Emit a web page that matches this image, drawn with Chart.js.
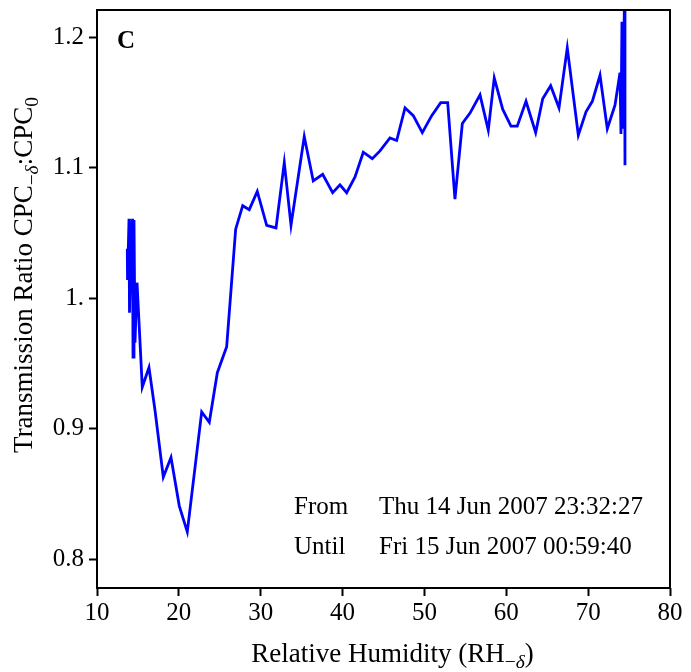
<!DOCTYPE html>
<html>
<head>
<meta charset="utf-8">
<script src="https://cdn.jsdelivr.net/npm/chart.js@4"></script>
<style>
  html, body { margin: 0; padding: 0; background: #fff; }
  #wrap { width: 691px; height: 672px; }
</style>
</head>
<body>
<div id="wrap"><canvas id="ratioChart" width="691" height="672"></canvas></div>
<script>
// relative humidity (RH_-delta)
const rh = [
    13.70, 13.73, 13.91, 13.97, 14.15, 14.34, 14.40, 14.52, 14.64, 14.89,
    15.53, 16.35, 17.09, 18.10, 19.04, 20.05, 21.03, 22.79, 23.72, 24.70,
    25.84, 26.94, 27.80, 28.60, 29.58, 30.73, 31.87, 32.88, 33.70, 35.32,
    36.42, 37.57, 38.79, 39.68, 40.50, 41.52, 42.53, 43.63, 44.57, 45.79,
    46.61, 47.63, 48.64, 49.74, 50.89, 51.99, 52.84, 53.73, 54.63, 55.57,
    56.79, 57.80, 58.53, 59.56, 60.57, 61.34, 62.41, 63.59, 64.45, 65.42,
    66.44, 67.45, 68.80, 69.74, 70.51, 71.45, 72.34, 73.28, 73.89, 74.01,
    74.13, 74.26, 74.44, 74.50
];
// transmission ratio CPC_-delta : CPC_0
const ratio = [
    1.038, 1.014, 1.061, 0.989, 1.037, 1.061, 0.955, 1.060, 0.966, 1.012,
    0.932, 0.947, 0.914, 0.863, 0.878, 0.841, 0.821, 0.913, 0.905, 0.943,
    0.963, 1.053, 1.071, 1.068, 1.082, 1.056, 1.054, 1.104, 1.056, 1.124,
    1.090, 1.095, 1.081, 1.087, 1.081, 1.093, 1.112, 1.107, 1.113, 1.123,
    1.121, 1.146, 1.140, 1.127, 1.140, 1.150, 1.150, 1.076, 1.134, 1.142,
    1.156, 1.129, 1.169, 1.145, 1.132, 1.132, 1.151, 1.127, 1.153, 1.163,
    1.146, 1.192, 1.125, 1.143, 1.151, 1.171, 1.130, 1.148, 1.173, 1.126,
    1.212, 1.130, 1.235, 1.102
];

const xTicks = [10, 20, 30, 40, 50, 60, 70, 80];
const yTicks = [0.8, 0.9, 1.0, 1.1, 1.2];
const yTickLabels = ['0.8', '0.9', '1.', '1.1', '1.2'];

const FONT = "'Liberation Serif', 'DejaVu Serif', serif";

// draws a run of text pieces, some of them as subscripts
function drawRich(ctx, parts, x, y, size) {
    let cx = x;
    parts.forEach(p => {
        const s = p.sub ? size * 0.72 : size;
        ctx.font = (p.italic ? 'italic ' : '') + s + 'px ' + FONT;
        ctx.fillText(p.t, cx, y + (p.sub ? size * 0.28 : 0));
        cx += ctx.measureText(p.t).width;
    });
}
function richWidth(ctx, parts, size) {
    let w = 0;
    parts.forEach(p => {
        const s = p.sub ? size * 0.72 : size;
        ctx.font = (p.italic ? 'italic ' : '') + s + 'px ' + FONT;
        w += ctx.measureText(p.t).width;
    });
    return w;
}

const xTitle = [
    { t: 'Relative Humidity (RH' },
    { t: '\u2212', sub: true }, { t: '\u03b4', sub: true, italic: true },
    { t: ')' }
];
const yTitle = [
    { t: 'Transmission Ratio CPC' },
    { t: '\u2212', sub: true }, { t: '\u03b4', sub: true, italic: true },
    { t: ':CPC' },
    { t: '0', sub: true }
];

const framePlugin = {
    id: 'frame',
    afterDraw(chart) {
        const ctx = chart.ctx;
        const a = chart.chartArea;
        ctx.save();
        ctx.strokeStyle = '#000';
        ctx.lineWidth = 2;
        ctx.strokeRect(a.left, a.top, a.right - a.left, a.bottom - a.top);

        ctx.fillStyle = '#000';
        ctx.textBaseline = 'middle';
        ctx.textAlign = 'left';

        // panel letter
        ctx.font = 'bold 25px ' + FONT;
        ctx.fillText('C', a.left + 20, a.top + 32);

        // time window
        ctx.font = '25px ' + FONT;
        ctx.fillText('From', 294, 507);
        ctx.fillText('Thu 14 Jun 2007 23:32:27', 379, 507);
        ctx.fillText('Until', 294, 547);
        ctx.fillText('Fri 15 Jun 2007 00:59:40', 379, 547);

        // x axis title
        const size = 27;
        let w = richWidth(ctx, xTitle, size);
        drawRich(ctx, xTitle, (a.left + a.right) / 2 - w / 2 + 9, 655, size);

        // y axis title
        w = richWidth(ctx, yTitle, size);
        ctx.translate(25, 275);
        ctx.rotate(-Math.PI / 2);
        drawRich(ctx, yTitle, -w / 2, 0, size);
        ctx.restore();
    }
};

const ctx = document.getElementById('ratioChart').getContext('2d');

new Chart(ctx, {
    type: 'line',
    data: {
        datasets: [{
            label: 'Transmission Ratio',
            data: rh.map((x, i) => ({ x: x, y: ratio[i] })),
            borderColor: '#0000ff',
            borderWidth: 2.8,
            pointRadius: 0,
            tension: 0,
            fill: false
        }]
    },
    options: {
        responsive: false,
        animation: false,
        layout: { padding: { top: 10, right: 21, left: 0, bottom: 0 } },
        plugins: {
            legend: { display: false },
            tooltip: { enabled: false }
        },
        scales: {
            x: {
                type: 'linear',
                min: 10,
                max: 80,
                afterBuildTicks: (axis) => { axis.ticks = xTicks.map(v => ({ value: v })); },
                afterFit: (axis) => {
                    axis.height = 84;
                    axis.paddingLeft = 0;
                    axis.paddingRight = 0;
                },
                border: { display: false },
                grid: {
                    drawOnChartArea: false,
                    drawTicks: true,
                    tickLength: 8,
                    tickWidth: 2,
                    tickColor: '#000'
                },
                ticks: {
                    color: '#000',
                    font: { family: FONT, size: 25 },
                    padding: 2,
                    maxRotation: 0
                }
            },
            y: {
                type: 'linear',
                min: 0.778,
                max: 1.221,
                afterBuildTicks: (axis) => { axis.ticks = yTicks.map(v => ({ value: v })); },
                afterFit: (axis) => {
                    axis.width = 97;
                    axis.paddingTop = 0;
                    axis.paddingBottom = 0;
                },
                border: { display: false },
                grid: {
                    drawOnChartArea: false,
                    drawTicks: true,
                    tickLength: 8,
                    tickWidth: 2,
                    tickColor: '#000'
                },
                ticks: {
                    color: '#000',
                    font: { family: FONT, size: 25 },
                    padding: 5,
                    callback: (value) => {
                        const i = yTicks.findIndex(t => Math.abs(t - value) < 1e-6);
                        return i >= 0 ? yTickLabels[i] : '';
                    }
                }
            }
        }
    },
    plugins: [framePlugin]
});
</script>
</body>
</html>
